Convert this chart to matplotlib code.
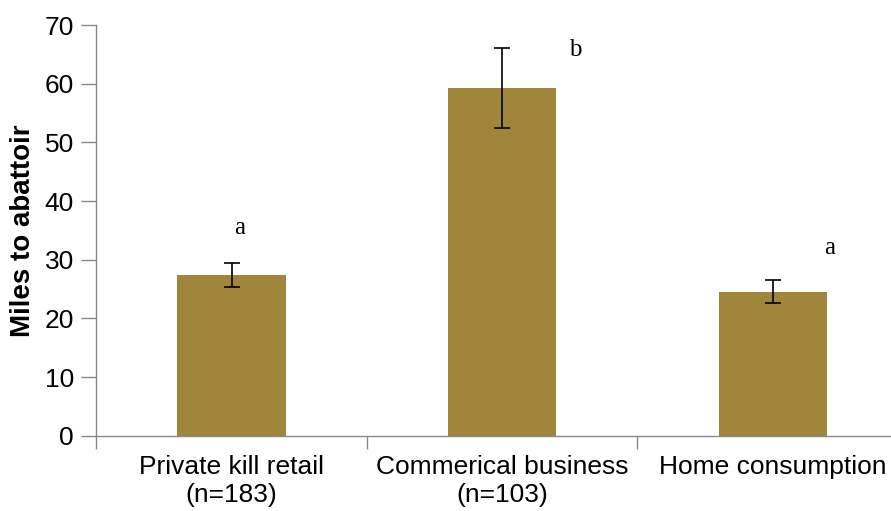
import numpy as np
import matplotlib
matplotlib.use("Agg")
from matplotlib import pyplot as plt

# data
categories = ["Private kill retail\n(n=183)", "Commerical business\n(n=103)", "Home consumption"]
miles = [27.4, 59.3, 24.6]
errors = [2.0, 6.8, 2.0]
letters = ["a", "b", "a"]
letter_x = [0.03, 1.27, 2.21]
letter_y = [35.4, 65.8, 32.0]

plt.rcParams['font.family'] = ['Liberation Sans', 'DejaVu Sans']

fig = plt.figure(figsize=(8.91, 5.11), dpi=100)
ax = fig.add_axes([0.108, 0.147, 0.911, 0.804])

x = np.arange(len(categories))
ax.bar(x, miles, width=0.4, color="#9F863A", zorder=2)
ax.errorbar(x, miles, yerr=errors, fmt="none", ecolor="black",
            elinewidth=1.2, capsize=6, capthick=1.2, zorder=3)

for xi, yi, t in zip(letter_x, letter_y, letters):
    ax.text(xi, yi, t, ha="center", va="center", fontsize=18,
            family=["Liberation Serif", "DejaVu Serif"])

ax.set_xlim(-0.5, 2.5)
ax.set_ylim(0, 70)
ax.set_yticks(range(0, 71, 10))
ax.tick_params(axis="y", labelsize=19, direction="out", length=11,
               color="#898989", width=1, pad=5)

# category boundaries get the tick marks, labels sit in between
ax.set_xticks([-0.5, 0.5, 1.5, 2.5])
ax.set_xticklabels([])
ax.set_xticks(x, minor=True)
ax.set_xticklabels(categories, minor=True, fontsize=19)
ax.tick_params(axis="x", which="major", direction="out", length=9,
               color="#898989", width=1)
ax.tick_params(axis="x", which="minor", length=0, pad=14)

ax.set_ylabel("Miles to abattoir", fontsize=20, fontweight="bold", labelpad=6)

for s in ["top", "right"]:
    ax.spines[s].set_visible(False)
for s in ["left", "bottom"]:
    ax.spines[s].set_color("#898989")
    ax.spines[s].set_linewidth(1)

fig.savefig("out.png", dpi=100)
